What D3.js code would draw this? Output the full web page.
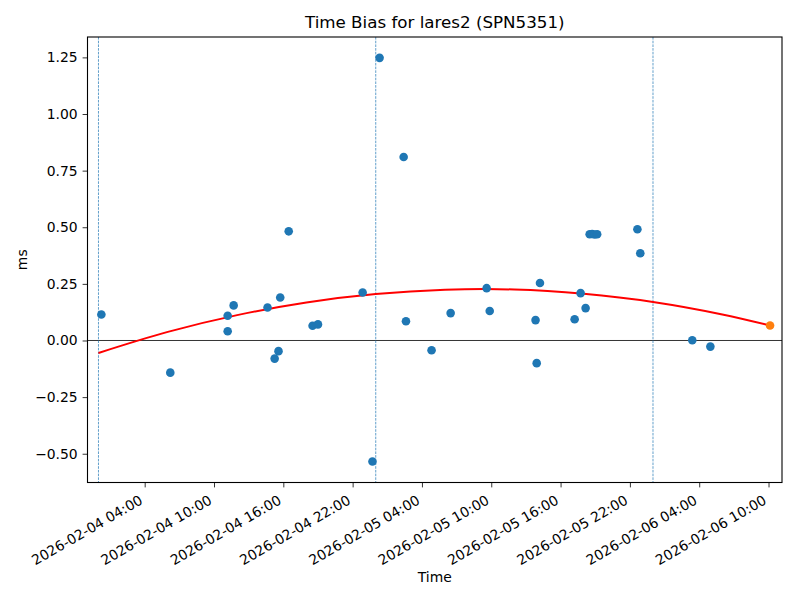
<!DOCTYPE html>
<html>
<head>
<meta charset="utf-8">
<script src="https://cdn.jsdelivr.net/npm/d3@7"></script>
<style>
  html, body { margin: 0; padding: 0; background: #fff; }
  svg { display: block; font-family: "DejaVu Sans", sans-serif; }
</style>
</head>
<body>
<svg id="chart" width="800" height="600"></svg>
<script>
// ---- data ----
const titleText = "Time Bias for lares2 (SPN5351)";
const xLabel = "Time";
const yLabel = "ms";

const pointTimes = [
  "2026-02-04 00:15", "2026-02-04 06:13", "2026-02-04 11:11", "2026-02-04 11:11",
  "2026-02-04 11:42", "2026-02-04 14:38", "2026-02-04 15:15", "2026-02-04 15:35",
  "2026-02-04 15:44", "2026-02-04 16:28", "2026-02-04 18:32", "2026-02-04 19:00",
  "2026-02-04 22:52", "2026-02-04 23:43", "2026-02-05 00:20", "2026-02-05 02:25",
  "2026-02-05 02:37", "2026-02-05 04:50", "2026-02-05 06:29", "2026-02-05 09:36",
  "2026-02-05 09:52", "2026-02-05 13:50", "2026-02-05 13:56", "2026-02-05 14:13",
  "2026-02-05 17:13", "2026-02-05 17:44", "2026-02-05 18:10", "2026-02-05 18:31",
  "2026-02-05 18:44", "2026-02-05 18:57", "2026-02-05 19:10", "2026-02-05 22:39",
  "2026-02-05 22:54", "2026-02-06 03:24", "2026-02-06 04:58"
];
const pointValues = [
  0.115, -0.142, 0.109, 0.041,
  0.155, 0.146, -0.080, -0.047,
  0.190, 0.482, 0.065, 0.071,
  0.212, -0.534, 1.248, 0.810,
  0.085, -0.043, 0.121, 0.231,
  0.130, 0.090, -0.100, 0.254,
  0.094, 0.209, 0.143, 0.469,
  0.470, 0.468, 0.469, 0.491,
  0.385, 0.001, -0.027
];

const latestTime = ["2026-02-06 10:08"];
const latestValue = [0.066];

// fitted trend curve
const fitTimes = [
  "2026-02-04 00:00", "2026-02-04 06:00", "2026-02-04 12:00", "2026-02-04 18:00",
  "2026-02-05 00:00", "2026-02-05 06:00", "2026-02-05 12:00", "2026-02-05 18:00",
  "2026-02-06 00:00", "2026-02-06 06:00", "2026-02-06 10:08"
];
const fitValues = [
  -0.055, 0.038, 0.112, 0.168,
  0.205, 0.224, 0.225, 0.206,
  0.170, 0.115, 0.066
];

const dayLines = ["2026-02-04 00:00", "2026-02-05 00:00", "2026-02-06 00:00"];

const xTickLabels = [
  "2026-02-04 04:00", "2026-02-04 10:00", "2026-02-04 16:00", "2026-02-04 22:00",
  "2026-02-05 04:00", "2026-02-05 10:00", "2026-02-05 16:00", "2026-02-05 22:00",
  "2026-02-06 04:00", "2026-02-06 10:00"
];
const yTickValues = [-0.50, -0.25, 0.00, 0.25, 0.50, 0.75, 1.00, 1.25];

const xDomain = ["2026-02-03 23:03", "2026-02-06 11:10"];
const yDomain = [-0.627, 1.340];

// ---- drawing ----
const FONT = "DejaVu Sans, sans-serif";
const parse = d3.utcParse("%Y-%m-%d %H:%M");
const fmt = d3.utcFormat("%Y-%m-%d %H:%M");

const svg = d3.select("#chart");
const L = 87.5, R = 782, T = 37, B = 482.5;

const x = d3.scaleUtc().domain(xDomain.map(parse)).range([L, R]);
const y = d3.scaleLinear().domain(yDomain).range([B, T]);

const C0 = "#1f77b4", C1 = "#ff7f0e";

svg.append("clipPath").attr("id", "clip")
  .append("rect").attr("x", L).attr("y", T).attr("width", R - L).attr("height", B - T);

const plot = svg.append("g").attr("clip-path", "url(#clip)");

// zero line
plot.append("line")
  .attr("x1", L).attr("x2", R)
  .attr("y1", y(0)).attr("y2", y(0))
  .attr("stroke", "#000").attr("stroke-width", 0.8);

// day separators
plot.selectAll(".day").data(dayLines).enter().append("line")
  .attr("x1", d => x(parse(d))).attr("x2", d => x(parse(d)))
  .attr("y1", T).attr("y2", B)
  .attr("stroke", C0).attr("stroke-width", 0.7)
  .attr("stroke-dasharray", "2.6,1.1");

// fitted curve
const fitData = fitTimes.map((t, i) => ({ t: parse(t), v: fitValues[i] }));
const fitLine = d3.line()
  .x(d => x(d.t)).y(d => y(d.v))
  .curve(d3.curveCatmullRom.alpha(0.5));
plot.append("path")
  .datum(fitData)
  .attr("fill", "none")
  .attr("stroke", "#ff0000")
  .attr("stroke-width", 2)
  .attr("d", fitLine);

// points
const pts = pointTimes.map((t, i) => ({ t: parse(t), v: pointValues[i] }));
plot.selectAll(".pt").data(pts).enter().append("circle")
  .attr("cx", d => x(d.t)).attr("cy", d => y(d.v))
  .attr("r", 4.3).attr("fill", C0);

const latest = latestTime.map((t, i) => ({ t: parse(t), v: latestValue[i] }));
plot.selectAll(".lt").data(latest).enter().append("circle")
  .attr("cx", d => x(d.t)).attr("cy", d => y(d.v))
  .attr("r", 4.3).attr("fill", C1);

// axes
const xAxis = d3.axisBottom(x)
  .tickValues(xTickLabels.map(parse))
  .tickFormat(d => fmt(d))
  .tickSize(4.9).tickSizeOuter(0).tickPadding(4.9);
const gx = svg.append("g").attr("transform", `translate(0,${B})`).call(xAxis)
  .attr("font-family", FONT).attr("font-size", 13.9);
gx.select(".domain").remove();
gx.selectAll(".tick line").attr("stroke", "#000").attr("stroke-width", 0.8);
gx.selectAll(".tick text")
  .attr("fill", "#000")
  .attr("text-anchor", "end")
  .attr("y", 0).attr("dy", 0)
  .attr("transform", "translate(-1.5,20.5) rotate(-30)");

const yAxis = d3.axisLeft(y)
  .tickValues(yTickValues)
  .tickFormat(d3.format(".2f"))
  .tickSize(4.9).tickSizeOuter(0).tickPadding(4.9);
const gy = svg.append("g").attr("transform", `translate(${L},0)`).call(yAxis)
  .attr("font-family", FONT).attr("font-size", 13.9);
gy.select(".domain").remove();
gy.selectAll(".tick line").attr("stroke", "#000").attr("stroke-width", 0.8);
gy.selectAll(".tick text").attr("fill", "#000");

// spines
svg.append("rect")
  .attr("x", L).attr("y", T).attr("width", R - L).attr("height", B - T)
  .attr("fill", "none").attr("stroke", "#000").attr("stroke-width", 1.1);

// title & labels
svg.append("text")
  .attr("x", (L + R) / 2).attr("y", 28)
  .attr("text-anchor", "middle").attr("font-size", 16.7)
  .attr("font-family", FONT)
  .text(titleText);

svg.append("text")
  .attr("x", (L + R) / 2).attr("y", 582)
  .attr("text-anchor", "middle").attr("font-size", 13.9)
  .attr("font-family", FONT)
  .text(xLabel);

svg.append("text")
  .attr("transform", `translate(27,${(T + B) / 2}) rotate(-90)`)
  .attr("text-anchor", "middle").attr("font-size", 13.9)
  .attr("font-family", FONT)
  .text(yLabel);
</script>
</body>
</html>
